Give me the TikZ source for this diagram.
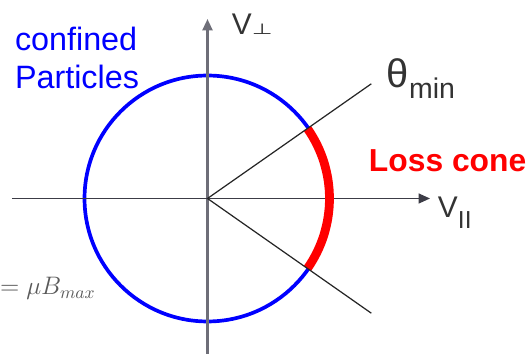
\documentclass[tikz,border=0pt]{standalone}
\usepackage{fontspec}
\setmainfont{Liberation Sans}
\newfontfamily\symfont{DejaVu Sans}
\usepackage{xcolor}
\usetikzlibrary{arrows.meta, positioning, calc}

\definecolor{axisgray}{HTML}{6E6E78}
\definecolor{axisdark}{HTML}{3C3C46}
\definecolor{labelgray}{HTML}{333333}
\definecolor{mathgray}{HTML}{595959}

\begin{document}
\begin{tikzpicture}[x=0.02cm, y=-0.02cm, >={Triangle[length=6.5pt, width=5.7pt]},
  every node/.style={inner sep=0pt, outer sep=0pt},
  vlabel/.style={text=labelgray, font=\fontsize{17pt}{20pt}\selectfont, anchor=base west}]
  \useasboundingbox (0,0) rectangle (529,354);
  \clip (0,0) rectangle (529,354);

  \coordinate (O) at (207.5,198.5);
  \coordinate (xl) at (12,198.5);
  \coordinate (xr) at (430,198.5);
  \coordinate (yb) at (207.5,354);
  \coordinate (yt) at (207.5,19);
  \coordinate (tu) at ($(O)+(35:4cm)$);
  \coordinate (td) at ($(O)+(-35:4cm)$);

  % velocity circle
  \draw[blue, line width=2.1pt] (O) circle[radius=2.46cm];

  % axes
  \draw[->, axisgray, line width=1.3pt] (yb) -- (yt);
  \draw[->, axisdark, line width=0.75pt] (xl) -- (xr);

  % loss cone
  \draw[red, line width=5pt] ($(O)+(-35:2.44cm)$) arc[start angle=-35, end angle=35, radius=2.44cm];
  \draw[black!85, line width=0.7pt] (O) -- (tu);
  \draw[black!85, line width=0.7pt] (O) -- (td);

  \node (vperp) [vlabel] at (232,35) {V\raisebox{0.2pt}{\scalebox{1.6}[1]{\symfont\fontsize{8.5pt}{9pt}\selectfont ⊥}}};
  \node (vpar) [vlabel] at (438,218) {V\raisebox{-5.7pt}{\fontsize{14pt}{14pt}\selectfont II}};
  \node (theta) [anchor=base west, text=labelgray] at (387,88)
    {\fontsize{22.7pt}{24pt}\selectfont θ\raisebox{-5.7pt}{\fontsize{16.2pt}{17pt}\selectfont min}};
  \node (conf) [anchor=base west, align=left, text=blue, font=\fontsize{18.4pt}{22.1pt}\selectfont] at (15,89)
    {confined\\Particles};
  \node (loss) [anchor=base west, text=red, font=\bfseries\fontsize{18.1pt}{20pt}\selectfont] at (369,172) {Loss cone};
  \node (mub) [anchor=base west, text=mathgray, font=\fontsize{14.2pt}{16pt}\selectfont] at (0,295) {$=\mu B_{max}$};
\end{tikzpicture}
\end{document}
